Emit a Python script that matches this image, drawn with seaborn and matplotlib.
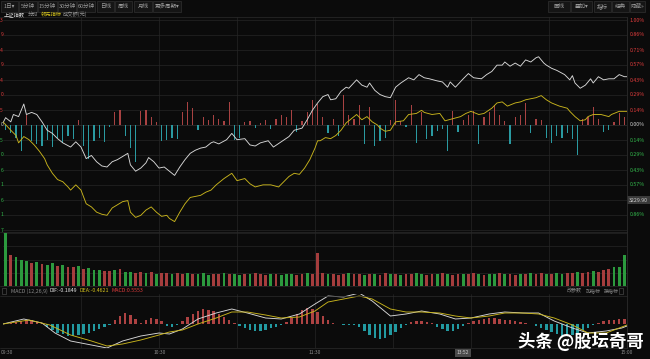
import numpy as np
import pandas as pd
import matplotlib
matplotlib.use("Agg")
import matplotlib.pyplot as plt
import matplotlib.transforms as mtransforms
from matplotlib.patches import Rectangle
import seaborn as sns

W, H = 650, 359
BG = "#0b0b0b"
GRID = "#262626"
RED = "#a84242"
CYAN = "#2a9aa1"
GREEN_TXT = "#33b84c"
RED_TXT = "#e03c3c"

# ---------------- data ----------------
# 上证指数 intraday, minute since 09:30 (lunch removed, 240 = 15:00) and % change
index_min = [0, 1, 3, 4, 6, 8, 9, 11, 13, 15, 17, 19, 21, 23, 26, 28, 30, 32, 34, 36,
             38, 40, 42, 44, 46, 48, 49, 51, 53, 55, 56, 58, 60, 62, 64, 66, 68, 70, 72, 74,
             76, 78, 80, 81, 83, 86, 88, 90, 93, 95, 97, 99, 102, 104, 107, 110, 112, 115, 117, 119,
             121, 123, 125, 126, 128, 130, 132, 133, 136, 138, 140, 141, 143, 145, 147, 149, 151, 153, 156, 158,
             160, 162, 164, 167, 169, 171, 172, 174, 177, 179, 181, 184, 186, 188, 190, 192, 193, 195, 197, 199,
             201, 203, 205, 206, 208, 209, 211, 213, 216, 218, 219, 220, 222, 224, 226, 227, 229, 231, 233, 235,
             237, 239, 240]
index_pct = [0.02, 0.07, 0.03, 0.10, 0.08, 0.20, 0.10, 0.12, 0.10, 0.03, -0.05, -0.08, -0.13, -0.17, -0.21, -0.16, -0.21, -0.32, -0.29, -0.35,
             -0.39, -0.40, -0.35, -0.33, -0.30, -0.27, -0.38, -0.44, -0.41, -0.36, -0.31, -0.35, -0.41, -0.40, -0.44, -0.48, -0.40, -0.33, -0.27, -0.24,
             -0.22, -0.21, -0.17, -0.16, -0.18, -0.14, -0.08, -0.14, -0.13, -0.19, -0.20, -0.17, -0.15, -0.21, -0.16, -0.11, -0.05, -0.03, 0.05, 0.14,
             0.21, 0.27, 0.29, 0.24, 0.25, 0.32, 0.36, 0.35, 0.43, 0.38, 0.36, 0.40, 0.33, 0.29, 0.27, 0.26, 0.36, 0.40, 0.45, 0.43,
             0.48, 0.45, 0.44, 0.42, 0.41, 0.36, 0.41, 0.36, 0.44, 0.49, 0.45, 0.44, 0.48, 0.51, 0.57, 0.57, 0.60, 0.56, 0.59, 0.56,
             0.62, 0.60, 0.64, 0.65, 0.59, 0.57, 0.54, 0.52, 0.48, 0.43, 0.47, 0.40, 0.35, 0.38, 0.44, 0.40, 0.46, 0.43, 0.44, 0.44,
             0.48, 0.46, 0.46]

# 领先指标 (yellow)
lead_min = [0, 3, 5, 6, 8, 10, 12, 14, 16, 17, 19, 21, 23, 25, 26, 28, 30, 32, 34, 36,
            38, 40, 42, 44, 46, 48, 49, 51, 53, 55, 57, 59, 61, 63, 64, 66, 68, 70, 72, 74,
            76, 78, 80, 82, 85, 88, 90, 93, 95, 97, 100, 103, 106, 108, 110, 112, 114, 116, 118, 120,
            121, 122, 124, 126, 128, 130, 132, 134, 136, 138, 140, 142, 144, 145, 147, 149, 151, 154, 156, 159,
            161, 162, 165, 168, 170, 173, 176, 178, 180, 183, 185, 188, 190, 192, 194, 197, 199, 201, 203, 205,
            207, 209, 211, 214, 217, 218, 220, 222, 224, 225, 227, 230, 233, 234, 237, 239, 240]
lead_pct = [0.03, -0.05, -0.10, -0.17, -0.11, -0.14, -0.19, -0.25, -0.32, -0.38, -0.46, -0.52, -0.54, -0.59, -0.62, -0.57, -0.62, -0.75, -0.78, -0.83,
            -0.85, -0.86, -0.79, -0.76, -0.73, -0.72, -0.83, -0.88, -0.86, -0.81, -0.78, -0.83, -0.87, -0.86, -0.89, -0.92, -0.83, -0.75, -0.69, -0.68,
            -0.67, -0.64, -0.62, -0.57, -0.51, -0.46, -0.53, -0.51, -0.56, -0.59, -0.57, -0.57, -0.59, -0.54, -0.49, -0.46, -0.47, -0.41, -0.33, -0.22,
            -0.15, -0.15, -0.12, -0.13, -0.10, -0.05, 0.02, 0.06, 0.10, 0.05, 0.08, 0.03, 0.00, -0.03, -0.06, -0.05, 0.03, 0.04, 0.10, 0.11,
            0.14, 0.12, 0.10, 0.11, 0.04, 0.06, 0.08, 0.11, 0.13, 0.10, 0.11, 0.16, 0.21, 0.22, 0.18, 0.21, 0.22, 0.24, 0.25, 0.26,
            0.28, 0.24, 0.21, 0.18, 0.16, 0.13, 0.08, 0.04, 0.05, 0.08, 0.10, 0.10, 0.08, 0.10, 0.13, 0.13, 0.13]

# red / cyan strength bars around 0.00%, one per 2 minutes
power_bars = [-0.05, -0.08, -0.12, -0.25, 0.10, -0.15, -0.18, -0.20, -0.14, -0.21,
              -0.12, -0.17, -0.10, -0.13, 0.05, -0.20, -0.32, -0.15, -0.12, -0.16,
              -0.02, 0.12, 0.14, -0.10, -0.22, -0.35, 0.13, 0.14, 0.08, 0.03,
              -0.15, -0.14, -0.12, -0.13, 0.12, 0.22, 0.16, -0.05, 0.08, 0.05,
              0.10, 0.06, 0.04, 0.22, -0.14, -0.12, 0.03, 0.04, -0.03, 0.02,
              0.05, -0.04, 0.06, 0.10, 0.08, 0.14, -0.07, 0.04, 0.12, 0.24,
              0.20, 0.08, -0.08, 0.06, -0.10, 0.29, 0.10, 0.06, 0.19, -0.18,
              0.17, -0.20, -0.15, -0.12, 0.05, 0.24, 0.04, -0.02, 0.19, -0.17,
              0.12, -0.13, -0.10, -0.06, -0.04, -0.25, 0.13, -0.07, 0.05, 0.10,
              0.13, -0.18, 0.08, 0.12, 0.19, 0.10, 0.04, -0.18, 0.08, 0.10,
              0.21, -0.08, 0.06, 0.05, -0.12, -0.17, -0.10, -0.12, -0.08, -0.13,
              -0.29, 0.06, 0.08, 0.17, 0.06, -0.07, -0.05, 0.03, 0.11, 0.08]

# 成交额, relative height, one per 2 minutes, with up (r) / down (g) colour
volume = [100, 58, 55, 50, 47, 44, 46, 42, 40, 44,
          38, 40, 36, 35, 37, 32, 34, 30, 31, 29,
          28, 30, 32, 27, 26, 25, 27, 24, 26, 23,
          25, 24, 23, 25, 22, 24, 23, 22, 24, 21,
          23, 22, 24, 23, 22, 21, 23, 22, 24, 22,
          21, 23, 22, 20, 22, 23, 21, 22, 24, 23,
          62, 24, 22, 23, 21, 22, 24, 23, 22, 21,
          23, 22, 21, 24, 22, 23, 21, 22, 23, 24,
          22, 21, 23, 22, 24, 23, 21, 22, 23, 22,
          24, 22, 21, 23, 22, 24, 23, 22, 21, 23,
          22, 24, 23, 25, 22, 23, 24, 22, 25, 24,
          26, 25, 27, 28, 27, 30, 33, 36, 35, 58]
volume_dir = ("grgggrgrgg" "rgrrgrgggr" "rgrggrrgrg" "rrgrrgrggg"
              "rrgrggrgrr" "rgrgggrrgr" "rrgrrrgrrg" "rgrrgrgrrg"
              "grrgrgrrgr" "rgrggrgrrg" "rgrrgrggrr" "grrgrrrggg")

# MACD (12,26,9)
dif_min = [0, 8, 15, 20, 26, 34, 40, 46, 53, 60, 64, 69, 75, 82, 88, 94, 101, 107, 114, 120,
           125, 131, 137, 142, 149, 155, 161, 168, 174, 180, 187, 193, 200, 206, 212, 219, 225, 232, 238, 240]
dif_val = [0.0, 0.5, 0.1, -0.9, -1.7, -2.1, -2.4, -1.7, -1.2, -0.9, -1.0, -0.5, 0.5, 1.1, 1.5, 1.1, 0.6, 0.5, 1.0, 2.0,
           2.8, 2.7, 3.1, 2.3, 0.8, 1.0, 1.3, 1.0, 0.5, 0.6, 1.0, 1.2, 1.1, 1.1, 0.3, -0.4, -0.9, -0.7, -0.4, -0.2]
dea_min = [0, 10, 18, 26, 34, 40, 46, 53, 60, 64, 69, 75, 82, 88, 94, 101, 107, 114, 120, 125,
           131, 137, 142, 149, 155, 161, 168, 174, 180, 187, 193, 200, 206, 212, 219, 225, 232, 238, 240]
dea_val = [0.0, 0.4, -0.1, -1.1, -1.7, -2.2, -2.0, -1.6, -1.1, -0.8, -0.6, 0.0, 0.6, 1.2, 1.2, 0.9, 0.6, 0.7, 1.3, 2.2,
           2.5, 2.8, 2.5, 1.5, 1.2, 1.2, 1.1, 0.8, 0.6, 0.8, 1.1, 1.1, 1.0, 0.6, -0.1, -0.9, -0.9, -0.3, -0.1]
macd_bars = [0.05, 0.1, 0.2, 0.35, 0.45, 0.4, 0.25, 0.1, -0.3, -0.6,
             -0.85, -1.0, -1.15, -1.2, -1.1, -1.0, -0.9, -0.7, -0.5, -0.3,
             -0.1, 0.4, 0.8, 1.1, 0.9, 0.5, 0.1, 0.4, 0.65, 0.5,
             0.3, -0.2, -0.25, -0.1, 0.3, 0.7, 1.0, 1.3, 1.5, 1.45,
             1.3, 1.0, 0.7, 0.4, 0.1, -0.2, -0.4, -0.6, -0.7, -0.65,
             -0.55, -0.4, -0.25, -0.1, 0.2, 0.6, 1.0, 1.4, 1.6, 1.5,
             1.2, 0.8, 0.4, 0.15, 0.05, -0.05, -0.1, -0.05, -0.3, -0.7,
             -1.1, -1.4, -1.5, -1.4, -1.1, -0.8, -0.4, -0.1, 0.2, 0.3,
             0.3, 0.2, 0.1, -0.3, -0.5, -0.7, -0.65, -0.45, -0.2, 0.1,
             0.3, 0.45, 0.55, 0.6, 0.6, 0.5, 0.45, 0.4, 0.3, 0.25,
             0.15, 0.05, -0.2, -0.4, -0.6, -0.8, -1.0, -1.15, -1.2, -1.1,
             -0.9, -0.6, -0.35, -0.1, 0.15, 0.3, 0.4, 0.45, 0.5, 0.5]

prev_close = 3253.5
pct_levels = [i / 7 for i in range(-7, 8)]
grid_minutes = [30, 60, 90, 120, 150, 180, 210]

# ---------------- style ----------------
sns.set_style("dark", {"axes.facecolor": BG, "figure.facecolor": BG})
plt.rcParams["font.family"] = ["Noto Sans CJK SC", "DejaVu Sans"]

fig = plt.figure(figsize=(W / 100, H / 100), dpi=100)
fig.patch.set_facecolor(BG)


def fx(px):
    return px / W


def fy(py):
    return 1 - py / H


def panel(top, bottom):
    a = fig.add_axes([fx(3), fy(bottom), fx(627) - fx(3), (bottom - top) / H])
    a.set_facecolor(BG)
    a.set_xlim(0, 240)
    a.set_xticks([])
    a.set_yticks([])
    for s in a.spines.values():
        s.set_visible(False)
    for m in grid_minutes:
        a.axvline(m, color=GRID, lw=0.5, zorder=0)
    return a


bar_x = np.arange(120) * 2 + 1

# ---- main price panel ----
ax = panel(17, 232)
ax.set_ylim(-1 - 2 / 105, 1 + 3 / 105)
for p in pct_levels:
    ax.axhline(p, color="#333333" if abs(p) < 1e-9 else GRID, lw=0.5, zorder=0)

pw = np.array(power_bars)
ax.bar(bar_x, pw, width=0.5, color=[RED if v > 0 else CYAN for v in pw], lw=0, zorder=1)

df_idx = pd.DataFrame({"m": index_min, "v": index_pct})
df_lead = pd.DataFrame({"m": lead_min, "v": lead_pct})
sns.lineplot(data=df_idx, x="m", y="v", ax=ax, color="#d8d8d8", lw=0.65, zorder=3)
sns.lineplot(data=df_lead, x="m", y="v", ax=ax, color="#c8b41c", lw=0.65, zorder=3)
ax.set_xlabel("")
ax.set_ylabel("")

tr_main = mtransforms.blended_transform_factory(fig.transFigure, ax.transData)
for p in pct_levels:
    if abs(p) < 1e-9:
        col = "#cfcfcf"
    elif p > 0:
        col = RED_TXT
    else:
        col = GREEN_TXT
    # left price scale: only the last digit shows at the window edge
    price = f"{prev_close * (1 + p / 100):.2f}"
    ax.text(fx(0.3), p, price[-1], transform=tr_main, color=col, fontsize=3.6,
            ha="left", va="center", clip_on=False)
    if p < -0.99 or (-0.75 < p < -0.7):
        continue
    ax.text(fx(629.5), p, f"{abs(p):.2f}%", transform=tr_main, color=col, fontsize=3.8,
            ha="left", va="center", clip_on=False)
# price tag
ax.text(fx(629), -5 / 7, "3229.90", transform=tr_main, color="#d0d0d0", fontsize=3.8,
        ha="left", va="center", clip_on=False,
        bbox=dict(boxstyle="square,pad=0.35", fc="#3a3a3a", ec="none"))

# ---- volume panel ----
axv = panel(232, 286)
axv.set_ylim(0, 102)
for lv in [25, 50, 75, 100]:
    axv.axhline(lv, color=GRID, lw=0.5, zorder=0)
vcols = ["#a53d3d" if c == "r" else "#2c9a3e" for c in volume_dir]
axv.bar(bar_x, volume, width=1.1, color=vcols, lw=0, zorder=2)

# ---- MACD panel ----
axm = panel(294, 348)
axm.set_ylim(-2.4, 3.0)
mb = np.array(macd_bars)
axm.bar(bar_x, mb, width=0.95, color=["#ad4242" if v > 0 else "#229aa1" for v in mb], lw=0, zorder=1)
df_dif = pd.DataFrame({"m": dif_min, "v": dif_val})
df_dea = pd.DataFrame({"m": dea_min, "v": dea_val})
sns.lineplot(data=df_dif, x="m", y="v", ax=axm, color="#d8d8d8", lw=0.65, zorder=3)
sns.lineplot(data=df_dea, x="m", y="v", ax=axm, color="#c8b41c", lw=0.65, zorder=3)
axm.set_xlabel("")
axm.set_ylabel("")

# ---- frame lines ----
for py in [17, 232, 286, 296, 348]:
    fig.add_artist(plt.Line2D([0, fx(627)], [fy(py), fy(py)], color="#2c2c2c", lw=0.5))
fig.add_artist(plt.Line2D([fx(627), fx(627)], [fy(17), fy(348)], color="#2c2c2c", lw=0.6))

# ---- top toolbar ----
def button(x0, x1, label, color="#9a9a9a"):
    fig.add_artist(Rectangle((fx(x0), fy(11.5)), fx(x1) - fx(x0), 10.5 / H,
                             transform=fig.transFigure, fc="#151515", ec="#303030", lw=0.5))
    fig.text(fx((x0 + x1) / 2), fy(6.3), label, color=color, fontsize=4.0, ha="center", va="center")


for lab, a, b in [("1日▾", 1, 18), ("5分钟", 19, 37), ("15分钟", 38, 57), ("30分钟", 58, 76),
                  ("60分钟", 77, 95), ("日线", 97, 114), ("周线", 115, 132), ("月线", 134, 152),
                  ("更多周期▾", 153, 181)]:
    button(a, b, lab)
for lab, a, b in [("画线", 548, 570), ("叠加▾", 571, 592), ("指标", 594, 611),
                  ("经典", 612, 629), ("隐藏»", 630, 645)]:
    button(a, b, lab)

# legend row
for lab, x0, col in [("上证指数", 4, "#dddddd"), ("分时", 28, "#9a9a9a"),
                     ("领先指标", 41, "#d6c41c"), ("成交额(元)", 63, "#9a9a9a")]:
    fig.text(fx(x0), fy(14.2), lab, color=col, fontsize=3.8, ha="left", va="center")

# MACD legend row
fig.add_artist(Rectangle((fx(1.5), fy(294)), fx(4), 6 / H, transform=fig.transFigure,
                         fc="none", ec="#555555", lw=0.4))
for lab, x0, col in [("MACD (12,26,9)", 11, "#8a8a8a"), ("DIF:-0.1849", 50, "#e8e8e8"),
                     ("DEA:-0.4621", 80, "#d6c41c"), ("MACD:0.5553", 112, RED_TXT)]:
    fig.text(fx(x0), fy(291), lab, color=col, fontsize=3.8, ha="left", va="center")
for lab, x0 in [("改参数", 567), ("加指标", 586), ("换指标", 604)]:
    fig.text(fx(x0), fy(291), lab, color="#8a8a8a", fontsize=3.6, ha="left", va="center")
fig.add_artist(Rectangle((fx(619), fy(294)), fx(4), 6 / H, transform=fig.transFigure,
                         fc="none", ec="#555555", lw=0.4))

# time axis
for lab, x0 in [("10:30", 160), ("11:30", 315), ("15:00", 627)]:
    fig.text(fx(x0), fy(352.5), lab, color="#8a8a8a", fontsize=3.6, ha="center", va="center")
fig.text(fx(0.5), fy(352.5), "09:30", color="#8a8a8a", fontsize=3.6, ha="left", va="center")
fig.text(fx(463), fy(352.5), "13:52", color="#d0d0d0", fontsize=3.6, ha="center", va="center",
         bbox=dict(boxstyle="square,pad=0.3", fc="#4a4a4a", ec="none"))

# watermark
fig.text(fx(644), fy(341), "头条 @股坛奇哥", color="white", fontsize=12.5, fontweight="bold",
         ha="right", va="center")

fig.savefig("out.png", dpi=100, facecolor=BG)
